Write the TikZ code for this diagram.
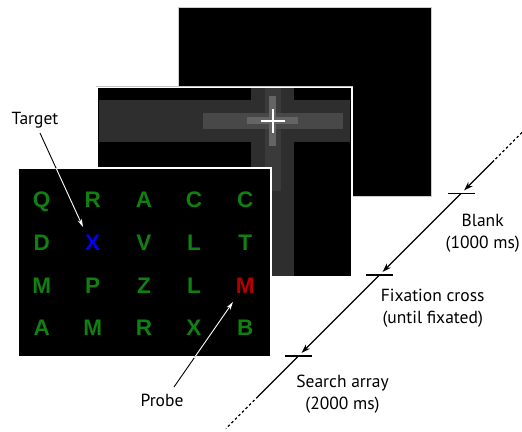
\documentclass[tikz,border=0pt]{standalone}
\usepackage{fontspec}
\setmainfont{PT Sans}
\newfontfamily\letterfont{Liberation Sans}
\usetikzlibrary{arrows.meta}
\definecolor{lgreen}{RGB}{16,128,16}
\definecolor{lblue}{RGB}{0,0,240}
\definecolor{lred}{RGB}{180,0,0}
\definecolor{band1}{RGB}{46,46,46}
\definecolor{band2a}{RGB}{58,58,58}
\definecolor{band2b}{RGB}{72,72,72}
\definecolor{band3}{RGB}{100,100,100}
\tikzset{
  screen/.style={fill=black},
  frame/.style={draw=white, line width=1.6pt},
  frameout/.style={draw=gray!45, line width=2.6pt},
  letter/.style={font=\letterfont\bfseries\fontsize{22.5}{23}\selectfont, inner sep=0pt, text height=16pt, text depth=0pt, text=lgreen},
  lab/.style={font=\fontsize{17.5}{22.3}\selectfont, align=center, inner sep=0pt},
  pointer/.style={line width=0.9pt, -{Stealth[length=8pt,width=4.5pt]}},
  tline/.style={line width=1.2pt},
  tarrow/.style={line width=1.2pt, -{Stealth[length=9pt,width=6pt,inset=3pt]}},
  tick/.style={line width=1.6pt},
  dots/.style={line width=1.2pt, dash pattern=on 2.5pt off 2.5pt}
}
\begin{document}
\begin{tikzpicture}[x=1pt,y=-1pt]
\useasboundingbox (0,0) rectangle (522,431);
% back screen (blank)
\fill[screen] (178,7) rectangle (431,196);
\draw[draw=gray!40, line width=0.6pt] (178,7) rectangle (431,196);
% middle screen (fixation)
\draw[frameout] (97,87.5) rectangle (352,277);
\fill[screen] (97,87.5) rectangle (352,277);
\fill[band1] (99,99.5) rectangle (350,142);
\fill[band1] (251,88) rectangle (294,276);
\fill[band2a] (264.7,88) rectangle (281,191);
\fill[band2b] (203,113) rectangle (343,129);
\fill[band3] (247,117) rectangle (298,124);
\fill[band3] (269,96) rectangle (276,146);
\draw[white, line width=2.6pt] (261,121) -- (285,121) (273,109) -- (273,133);
\draw[frame] (97,87.5) rectangle (352,277);
% front screen (search array)
\draw[frameout] (18,168) rectangle (271,357);
\fill[screen] (18,168) rectangle (271,357);
\draw[frame] (18,168) rectangle (271,357);
% letters
\node[letter] (q)  at (41.7,199.3) {Q};
\node[letter] (r1) at (92.7,199.3) {R};
\node[letter] (a1) at (144,199.3) {A};
\node[letter] (c1) at (194,199.3) {C};
\node[letter] (c2) at (245.3,199.3) {C};
\node[letter] (d)  at (41.7,242.3) {D};
\node[letter, text=lblue] (x1) at (92.7,242.3) {X};
\node[letter] (v)  at (144,242.3) {V};
\node[letter] (l1) at (194,242.3) {L};
\node[letter] (t)  at (245.3,242.3) {T};
\node[letter] (m1) at (41.7,285) {M};
\node[letter] (p)  at (92.7,285) {P};
\node[letter] (z)  at (144,285) {Z};
\node[letter] (l2) at (194,285) {L};
\node[letter, text=lred] (m2) at (245.3,285) {M};
\node[letter] (a2) at (41.7,327.7) {A};
\node[letter] (m3) at (92.7,327.7) {M};
\node[letter] (r2) at (144,327.7) {R};
\node[letter] (x2) at (194,327.7) {X};
\node[letter] (b)  at (245.3,327.7) {B};
% labels and pointers
\node[lab] (target) at (35,120) {Target};
\node[lab] (probe) at (162,400) {Probe};
\coordinate (ts) at (40,133);
\coordinate (te) at (83,227);
\coordinate (ps) at (174,387);
\coordinate (pe) at (233,302);
\draw[line width=0.9pt] (ts) -- (te);
\draw[line width=0.9pt] (ps) -- (pe);
\begin{scope}
\clip (18,168) rectangle (271,357);
\draw[pointer, white] (ts) -- (te);
\draw[pointer, white] (ps) -- (pe);
\end{scope}
% timeline
\coordinate (top) at (522,132.5);
\coordinate (topd) at (494,160.5);
\coordinate (t1) at (461.2,193.3);
\coordinate (t2) at (379.8,274.7);
\coordinate (t3) at (298.8,355.7);
\coordinate (botd) at (258,396.5);
\coordinate (bot) at (226,428.5);
\draw[dots] (top) -- (topd);
\draw[tarrow, shorten >=4pt] (topd) -- (t1);
\draw[tarrow, shorten >=4pt] (t1) -- (t2);
\draw[tarrow, shorten >=4pt] (t2) -- (t3);
\draw[tline] (t3) -- (botd);
\draw[dots] (botd) -- (bot);
\draw[tick] ([xshift=-13.5pt]t1) -- ([xshift=13.5pt]t1);
\draw[tick] ([xshift=-13.5pt]t2) -- ([xshift=13.5pt]t2);
\draw[tick] ([xshift=-13.5pt]t3) -- ([xshift=13.5pt]t3);
\node[lab] (blank) at (482.7,233.5) {Blank\\(1000 ms)};
\node[lab] (fix) at (432.7,308.5) {Fixation cross\\(until fixated)};
\node[lab] (search) at (342.5,394.5) {Search array\\(2000 ms)};
\end{tikzpicture}
\end{document}
